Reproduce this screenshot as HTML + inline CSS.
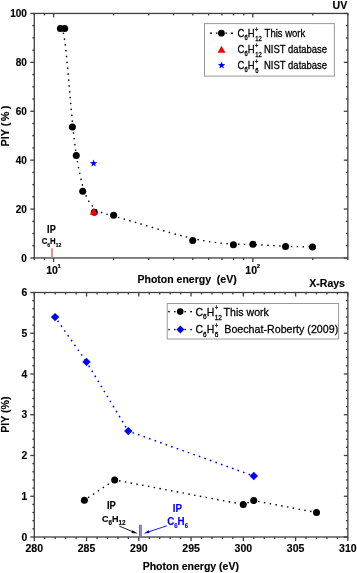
<!DOCTYPE html>
<html><head><meta charset="utf-8"><style>
html,body{margin:0;padding:0;background:#fff;}
svg{display:block;font-family:"Liberation Sans",sans-serif;-webkit-font-smoothing:antialiased;will-change:transform;}
</style></head><body>
<svg width="357" height="573" viewBox="0 0 357 573">
<rect width="357" height="573" fill="#fff"/>
<line x1="30.30" y1="257.95" x2="34.30" y2="257.95" stroke="#404040" stroke-width="1.3" />
<line x1="343.85" y1="257.95" x2="347.85" y2="257.95" stroke="#404040" stroke-width="1.3" />
<line x1="32.30" y1="245.72" x2="34.30" y2="245.72" stroke="#404040" stroke-width="1.3" />
<line x1="345.85" y1="245.72" x2="347.85" y2="245.72" stroke="#404040" stroke-width="1.3" />
<line x1="32.30" y1="233.50" x2="34.30" y2="233.50" stroke="#404040" stroke-width="1.3" />
<line x1="345.85" y1="233.50" x2="347.85" y2="233.50" stroke="#404040" stroke-width="1.3" />
<line x1="32.30" y1="221.27" x2="34.30" y2="221.27" stroke="#404040" stroke-width="1.3" />
<line x1="345.85" y1="221.27" x2="347.85" y2="221.27" stroke="#404040" stroke-width="1.3" />
<line x1="30.30" y1="209.05" x2="34.30" y2="209.05" stroke="#404040" stroke-width="1.3" />
<line x1="343.85" y1="209.05" x2="347.85" y2="209.05" stroke="#404040" stroke-width="1.3" />
<line x1="32.30" y1="196.82" x2="34.30" y2="196.82" stroke="#404040" stroke-width="1.3" />
<line x1="345.85" y1="196.82" x2="347.85" y2="196.82" stroke="#404040" stroke-width="1.3" />
<line x1="32.30" y1="184.60" x2="34.30" y2="184.60" stroke="#404040" stroke-width="1.3" />
<line x1="345.85" y1="184.60" x2="347.85" y2="184.60" stroke="#404040" stroke-width="1.3" />
<line x1="32.30" y1="172.38" x2="34.30" y2="172.38" stroke="#404040" stroke-width="1.3" />
<line x1="345.85" y1="172.38" x2="347.85" y2="172.38" stroke="#404040" stroke-width="1.3" />
<line x1="30.30" y1="160.15" x2="34.30" y2="160.15" stroke="#404040" stroke-width="1.3" />
<line x1="343.85" y1="160.15" x2="347.85" y2="160.15" stroke="#404040" stroke-width="1.3" />
<line x1="32.30" y1="147.92" x2="34.30" y2="147.92" stroke="#404040" stroke-width="1.3" />
<line x1="345.85" y1="147.92" x2="347.85" y2="147.92" stroke="#404040" stroke-width="1.3" />
<line x1="32.30" y1="135.70" x2="34.30" y2="135.70" stroke="#404040" stroke-width="1.3" />
<line x1="345.85" y1="135.70" x2="347.85" y2="135.70" stroke="#404040" stroke-width="1.3" />
<line x1="32.30" y1="123.47" x2="34.30" y2="123.47" stroke="#404040" stroke-width="1.3" />
<line x1="345.85" y1="123.47" x2="347.85" y2="123.47" stroke="#404040" stroke-width="1.3" />
<line x1="30.30" y1="111.25" x2="34.30" y2="111.25" stroke="#404040" stroke-width="1.3" />
<line x1="343.85" y1="111.25" x2="347.85" y2="111.25" stroke="#404040" stroke-width="1.3" />
<line x1="32.30" y1="99.02" x2="34.30" y2="99.02" stroke="#404040" stroke-width="1.3" />
<line x1="345.85" y1="99.02" x2="347.85" y2="99.02" stroke="#404040" stroke-width="1.3" />
<line x1="32.30" y1="86.80" x2="34.30" y2="86.80" stroke="#404040" stroke-width="1.3" />
<line x1="345.85" y1="86.80" x2="347.85" y2="86.80" stroke="#404040" stroke-width="1.3" />
<line x1="32.30" y1="74.57" x2="34.30" y2="74.57" stroke="#404040" stroke-width="1.3" />
<line x1="345.85" y1="74.57" x2="347.85" y2="74.57" stroke="#404040" stroke-width="1.3" />
<line x1="30.30" y1="62.35" x2="34.30" y2="62.35" stroke="#404040" stroke-width="1.3" />
<line x1="343.85" y1="62.35" x2="347.85" y2="62.35" stroke="#404040" stroke-width="1.3" />
<line x1="32.30" y1="50.12" x2="34.30" y2="50.12" stroke="#404040" stroke-width="1.3" />
<line x1="345.85" y1="50.12" x2="347.85" y2="50.12" stroke="#404040" stroke-width="1.3" />
<line x1="32.30" y1="37.90" x2="34.30" y2="37.90" stroke="#404040" stroke-width="1.3" />
<line x1="345.85" y1="37.90" x2="347.85" y2="37.90" stroke="#404040" stroke-width="1.3" />
<line x1="32.30" y1="25.67" x2="34.30" y2="25.67" stroke="#404040" stroke-width="1.3" />
<line x1="345.85" y1="25.67" x2="347.85" y2="25.67" stroke="#404040" stroke-width="1.3" />
<line x1="30.30" y1="13.45" x2="34.30" y2="13.45" stroke="#404040" stroke-width="1.3" />
<line x1="343.85" y1="13.45" x2="347.85" y2="13.45" stroke="#404040" stroke-width="1.3" />
<line x1="34.30" y1="257.95" x2="34.30" y2="259.95" stroke="#404040" stroke-width="1.3" />
<line x1="34.30" y1="13.45" x2="34.30" y2="15.45" stroke="#404040" stroke-width="1.3" />
<line x1="44.49" y1="257.95" x2="44.49" y2="259.95" stroke="#404040" stroke-width="1.3" />
<line x1="44.49" y1="13.45" x2="44.49" y2="15.45" stroke="#404040" stroke-width="1.3" />
<line x1="53.60" y1="257.95" x2="53.60" y2="261.95" stroke="#404040" stroke-width="1.3" />
<line x1="53.60" y1="13.45" x2="53.60" y2="17.45" stroke="#404040" stroke-width="1.3" />
<line x1="113.57" y1="257.95" x2="113.57" y2="259.95" stroke="#404040" stroke-width="1.3" />
<line x1="113.57" y1="13.45" x2="113.57" y2="15.45" stroke="#404040" stroke-width="1.3" />
<line x1="148.65" y1="257.95" x2="148.65" y2="259.95" stroke="#404040" stroke-width="1.3" />
<line x1="148.65" y1="13.45" x2="148.65" y2="15.45" stroke="#404040" stroke-width="1.3" />
<line x1="173.54" y1="257.95" x2="173.54" y2="259.95" stroke="#404040" stroke-width="1.3" />
<line x1="173.54" y1="13.45" x2="173.54" y2="15.45" stroke="#404040" stroke-width="1.3" />
<line x1="192.84" y1="257.95" x2="192.84" y2="259.95" stroke="#404040" stroke-width="1.3" />
<line x1="192.84" y1="13.45" x2="192.84" y2="15.45" stroke="#404040" stroke-width="1.3" />
<line x1="208.61" y1="257.95" x2="208.61" y2="259.95" stroke="#404040" stroke-width="1.3" />
<line x1="208.61" y1="13.45" x2="208.61" y2="15.45" stroke="#404040" stroke-width="1.3" />
<line x1="221.95" y1="257.95" x2="221.95" y2="259.95" stroke="#404040" stroke-width="1.3" />
<line x1="221.95" y1="13.45" x2="221.95" y2="15.45" stroke="#404040" stroke-width="1.3" />
<line x1="233.50" y1="257.95" x2="233.50" y2="259.95" stroke="#404040" stroke-width="1.3" />
<line x1="233.50" y1="13.45" x2="233.50" y2="15.45" stroke="#404040" stroke-width="1.3" />
<line x1="243.69" y1="257.95" x2="243.69" y2="259.95" stroke="#404040" stroke-width="1.3" />
<line x1="243.69" y1="13.45" x2="243.69" y2="15.45" stroke="#404040" stroke-width="1.3" />
<line x1="252.81" y1="257.95" x2="252.81" y2="261.95" stroke="#404040" stroke-width="1.3" />
<line x1="252.81" y1="13.45" x2="252.81" y2="17.45" stroke="#404040" stroke-width="1.3" />
<line x1="312.77" y1="257.95" x2="312.77" y2="259.95" stroke="#404040" stroke-width="1.3" />
<line x1="312.77" y1="13.45" x2="312.77" y2="15.45" stroke="#404040" stroke-width="1.3" />
<line x1="347.85" y1="257.95" x2="347.85" y2="259.95" stroke="#404040" stroke-width="1.3" />
<line x1="347.85" y1="13.45" x2="347.85" y2="15.45" stroke="#404040" stroke-width="1.3" />
<rect x="34.3" y="13.45" width="313.55" height="244.5" fill="none" stroke="#404040" stroke-width="1.3"/>
<text x="26.90" y="261.85" font-size="10" font-weight="bold" fill="#000" stroke="#000" stroke-width="0.15" text-anchor="end" >0</text>
<text x="26.90" y="212.95" font-size="10" font-weight="bold" fill="#000" stroke="#000" stroke-width="0.15" text-anchor="end" >20</text>
<text x="26.90" y="164.05" font-size="10" font-weight="bold" fill="#000" stroke="#000" stroke-width="0.15" text-anchor="end" >40</text>
<text x="26.90" y="115.15" font-size="10" font-weight="bold" fill="#000" stroke="#000" stroke-width="0.15" text-anchor="end" >60</text>
<text x="26.90" y="66.25" font-size="10" font-weight="bold" fill="#000" stroke="#000" stroke-width="0.15" text-anchor="end" >80</text>
<text x="26.90" y="17.35" font-size="10" font-weight="bold" fill="#000" stroke="#000" stroke-width="0.15" text-anchor="end" >100</text>
<text x="52.00" y="274" font-size="10.5" font-weight="bold" stroke="#000" stroke-width="0.15" text-anchor="middle">10</text>
<text x="59.20" y="268.4" font-size="6" font-weight="bold" stroke="#000" stroke-width="0.15" text-anchor="middle">1</text>
<text x="251.21" y="274" font-size="10.5" font-weight="bold" stroke="#000" stroke-width="0.15" text-anchor="middle">10</text>
<text x="258.41" y="268.4" font-size="6" font-weight="bold" stroke="#000" stroke-width="0.15" text-anchor="middle">2</text>
<text x="137.50" y="283.00" font-size="10.5" font-weight="bold" fill="#000" stroke="#000" stroke-width="0.15" text-anchor="start" >Photon energy&#160;&#160;(eV)</text>
<text transform="translate(9.0,146.4) rotate(-90)" font-size="10.8" font-weight="bold" stroke="#000" stroke-width="0.15">PIY (<tspan dx="1.4">%</tspan><tspan dx="2.4">)</tspan></text>
<g transform="translate(347.3,8.7) scale(1,1.05)"><text x="0" y="0" font-size="10.6" font-weight="bold" stroke="#000" stroke-width="0.15" text-anchor="end">UV</text></g>
<line x1="52.00" y1="248.20" x2="52.00" y2="257.60" stroke="#ff6a6a" stroke-width="1.6" />
<g transform="translate(47.1,232.6) scale(1,1.12)"><text x="0" y="0" font-size="9.2" font-weight="bold" stroke="#000" stroke-width="0.15">IP</text></g>
<g transform="translate(41.7,244) scale(1,1.12)"><text x="0" y="0" font-size="7.8" font-weight="bold" stroke="#000" stroke-width="0.15">C<tspan font-size="5" dy="2.9">6</tspan><tspan dy="-2.9">H</tspan><tspan font-size="5" dy="2.9">12</tspan></text></g>
<path d="M60.40,28.40 C60.40,28.40 60.40,28.40 61.12,28.40 C61.83,28.40 63.27,28.40 65.27,44.83 C67.27,61.27 69.83,94.13 71.76,115.33 C73.68,136.53 74.97,146.07 76.68,156.78 C78.40,167.48 80.55,179.37 83.56,188.82 C86.57,198.27 90.43,205.28 95.58,209.27 C100.73,213.25 107.17,214.20 123.57,218.89 C139.97,223.58 166.33,232.02 186.30,236.93 C206.27,241.85 219.83,243.25 229.87,243.88 C239.90,244.50 246.40,244.35 255.08,244.66 C263.77,244.97 274.63,245.73 284.57,246.18 C294.50,246.63 303.50,246.77 308.00,246.83 C312.50,246.90 312.50,246.90 312.50,246.90" fill="none" stroke="#000" stroke-width="1.4" stroke-dasharray="1.5 4.375" stroke-dashoffset="0.15"/>
<circle cx="60.4" cy="28.4" r="3.5" fill="#000"/>
<circle cx="64.7" cy="28.4" r="3.5" fill="#000"/>
<circle cx="72.4" cy="127.0" r="3.5" fill="#000"/>
<circle cx="76.25" cy="155.6" r="3.5" fill="#000"/>
<circle cx="82.7" cy="191.25" r="3.5" fill="#000"/>
<circle cx="94.3" cy="212.3" r="3.5" fill="#000"/>
<circle cx="113.6" cy="215.15" r="3.5" fill="#000"/>
<circle cx="192.7" cy="240.45" r="3.5" fill="#000"/>
<circle cx="233.4" cy="244.65" r="3.5" fill="#000"/>
<circle cx="252.9" cy="244.2" r="3.5" fill="#000"/>
<circle cx="285.5" cy="246.5" r="3.5" fill="#000"/>
<circle cx="312.5" cy="246.9" r="3.5" fill="#000"/>
<polygon points="93.7,207.9 89.8,214.8 97.7,214.8" fill="#ff0000"/>
<polygon points="93.60,159.50 94.54,162.11 97.31,162.19 95.12,163.89 95.89,166.56 93.60,165.00 91.31,166.56 92.08,163.89 89.89,162.19 92.66,162.11" fill="#0000ff"/>
<rect x="204.5" y="23.6" width="129.9" height="52.5" fill="#fff" stroke="#999" stroke-width="1"/>
<rect x="209.9" y="32.5" width="2.10" height="1.3" fill="#000"/>
<rect x="215.9" y="32.5" width="1.60" height="1.3" fill="#000"/>
<rect x="225.5" y="32.5" width="1.60" height="1.3" fill="#000"/>
<rect x="231" y="32.5" width="2.00" height="1.3" fill="#000"/>
<circle cx="221.4" cy="33.2" r="3.4" fill="#000"/>
<polygon points="221.5,45.8 217.6,52.8 225.5,52.8" fill="#ff0000"/>
<polygon points="221.60,61.50 222.54,64.11 225.31,64.19 223.12,65.89 223.89,68.56 221.60,67.00 219.31,68.56 220.08,65.89 217.89,64.19 220.66,64.11" fill="#0000ff"/>
<g transform="translate(237.6,36.6) scale(1,1.2)" stroke="#000" stroke-width="0.25"><text x="0" y="0" font-size="9.5" fill="#000">C<tspan font-size="5.89" dy="2.85">6</tspan><tspan dy="-2.85">H</tspan><tspan font-size="5.32" dx="0.70" dy="-3.99">+</tspan><tspan font-size="5.89" dx="-3.11" dy="7.29">12</tspan></text><text x="27.00" y="0" font-size="9.5" fill="#000">This work</text></g>
<g transform="translate(237.6,52.8) scale(1,1.2)" stroke="#000" stroke-width="0.25"><text x="0" y="0" font-size="9.5" fill="#000">C<tspan font-size="5.89" dy="2.85">6</tspan><tspan dy="-2.85">H</tspan><tspan font-size="5.32" dx="0.70" dy="-3.99">+</tspan><tspan font-size="5.89" dx="-3.11" dy="7.29">12</tspan></text><text x="26.40" y="0" font-size="9.5" fill="#000">NIST database</text></g>
<g transform="translate(237.6,68.6) scale(1,1.2)" stroke="#000" stroke-width="0.25"><text x="0" y="0" font-size="9.5" fill="#000">C<tspan font-size="5.89" dy="2.85">6</tspan><tspan dy="-2.85">H</tspan><tspan font-size="5.32" dx="0.70" dy="-3.99">+</tspan><tspan font-size="5.89" dx="-3.11" dy="7.29">6</tspan></text><text x="26.40" y="0" font-size="9.5" fill="#000">NIST database</text></g>
<line x1="30.30" y1="537.00" x2="34.30" y2="537.00" stroke="#404040" stroke-width="1.3" />
<line x1="343.85" y1="537.00" x2="347.85" y2="537.00" stroke="#404040" stroke-width="1.3" />
<line x1="32.30" y1="528.85" x2="34.30" y2="528.85" stroke="#404040" stroke-width="1.3" />
<line x1="345.85" y1="528.85" x2="347.85" y2="528.85" stroke="#404040" stroke-width="1.3" />
<line x1="32.30" y1="520.70" x2="34.30" y2="520.70" stroke="#404040" stroke-width="1.3" />
<line x1="345.85" y1="520.70" x2="347.85" y2="520.70" stroke="#404040" stroke-width="1.3" />
<line x1="32.30" y1="512.55" x2="34.30" y2="512.55" stroke="#404040" stroke-width="1.3" />
<line x1="345.85" y1="512.55" x2="347.85" y2="512.55" stroke="#404040" stroke-width="1.3" />
<line x1="32.30" y1="504.40" x2="34.30" y2="504.40" stroke="#404040" stroke-width="1.3" />
<line x1="345.85" y1="504.40" x2="347.85" y2="504.40" stroke="#404040" stroke-width="1.3" />
<line x1="30.30" y1="496.25" x2="34.30" y2="496.25" stroke="#404040" stroke-width="1.3" />
<line x1="343.85" y1="496.25" x2="347.85" y2="496.25" stroke="#404040" stroke-width="1.3" />
<line x1="32.30" y1="488.10" x2="34.30" y2="488.10" stroke="#404040" stroke-width="1.3" />
<line x1="345.85" y1="488.10" x2="347.85" y2="488.10" stroke="#404040" stroke-width="1.3" />
<line x1="32.30" y1="479.95" x2="34.30" y2="479.95" stroke="#404040" stroke-width="1.3" />
<line x1="345.85" y1="479.95" x2="347.85" y2="479.95" stroke="#404040" stroke-width="1.3" />
<line x1="32.30" y1="471.80" x2="34.30" y2="471.80" stroke="#404040" stroke-width="1.3" />
<line x1="345.85" y1="471.80" x2="347.85" y2="471.80" stroke="#404040" stroke-width="1.3" />
<line x1="32.30" y1="463.65" x2="34.30" y2="463.65" stroke="#404040" stroke-width="1.3" />
<line x1="345.85" y1="463.65" x2="347.85" y2="463.65" stroke="#404040" stroke-width="1.3" />
<line x1="30.30" y1="455.50" x2="34.30" y2="455.50" stroke="#404040" stroke-width="1.3" />
<line x1="343.85" y1="455.50" x2="347.85" y2="455.50" stroke="#404040" stroke-width="1.3" />
<line x1="32.30" y1="447.35" x2="34.30" y2="447.35" stroke="#404040" stroke-width="1.3" />
<line x1="345.85" y1="447.35" x2="347.85" y2="447.35" stroke="#404040" stroke-width="1.3" />
<line x1="32.30" y1="439.20" x2="34.30" y2="439.20" stroke="#404040" stroke-width="1.3" />
<line x1="345.85" y1="439.20" x2="347.85" y2="439.20" stroke="#404040" stroke-width="1.3" />
<line x1="32.30" y1="431.05" x2="34.30" y2="431.05" stroke="#404040" stroke-width="1.3" />
<line x1="345.85" y1="431.05" x2="347.85" y2="431.05" stroke="#404040" stroke-width="1.3" />
<line x1="32.30" y1="422.90" x2="34.30" y2="422.90" stroke="#404040" stroke-width="1.3" />
<line x1="345.85" y1="422.90" x2="347.85" y2="422.90" stroke="#404040" stroke-width="1.3" />
<line x1="30.30" y1="414.75" x2="34.30" y2="414.75" stroke="#404040" stroke-width="1.3" />
<line x1="343.85" y1="414.75" x2="347.85" y2="414.75" stroke="#404040" stroke-width="1.3" />
<line x1="32.30" y1="406.60" x2="34.30" y2="406.60" stroke="#404040" stroke-width="1.3" />
<line x1="345.85" y1="406.60" x2="347.85" y2="406.60" stroke="#404040" stroke-width="1.3" />
<line x1="32.30" y1="398.45" x2="34.30" y2="398.45" stroke="#404040" stroke-width="1.3" />
<line x1="345.85" y1="398.45" x2="347.85" y2="398.45" stroke="#404040" stroke-width="1.3" />
<line x1="32.30" y1="390.30" x2="34.30" y2="390.30" stroke="#404040" stroke-width="1.3" />
<line x1="345.85" y1="390.30" x2="347.85" y2="390.30" stroke="#404040" stroke-width="1.3" />
<line x1="32.30" y1="382.15" x2="34.30" y2="382.15" stroke="#404040" stroke-width="1.3" />
<line x1="345.85" y1="382.15" x2="347.85" y2="382.15" stroke="#404040" stroke-width="1.3" />
<line x1="30.30" y1="374.00" x2="34.30" y2="374.00" stroke="#404040" stroke-width="1.3" />
<line x1="343.85" y1="374.00" x2="347.85" y2="374.00" stroke="#404040" stroke-width="1.3" />
<line x1="32.30" y1="365.85" x2="34.30" y2="365.85" stroke="#404040" stroke-width="1.3" />
<line x1="345.85" y1="365.85" x2="347.85" y2="365.85" stroke="#404040" stroke-width="1.3" />
<line x1="32.30" y1="357.70" x2="34.30" y2="357.70" stroke="#404040" stroke-width="1.3" />
<line x1="345.85" y1="357.70" x2="347.85" y2="357.70" stroke="#404040" stroke-width="1.3" />
<line x1="32.30" y1="349.55" x2="34.30" y2="349.55" stroke="#404040" stroke-width="1.3" />
<line x1="345.85" y1="349.55" x2="347.85" y2="349.55" stroke="#404040" stroke-width="1.3" />
<line x1="32.30" y1="341.40" x2="34.30" y2="341.40" stroke="#404040" stroke-width="1.3" />
<line x1="345.85" y1="341.40" x2="347.85" y2="341.40" stroke="#404040" stroke-width="1.3" />
<line x1="30.30" y1="333.25" x2="34.30" y2="333.25" stroke="#404040" stroke-width="1.3" />
<line x1="343.85" y1="333.25" x2="347.85" y2="333.25" stroke="#404040" stroke-width="1.3" />
<line x1="32.30" y1="325.10" x2="34.30" y2="325.10" stroke="#404040" stroke-width="1.3" />
<line x1="345.85" y1="325.10" x2="347.85" y2="325.10" stroke="#404040" stroke-width="1.3" />
<line x1="32.30" y1="316.95" x2="34.30" y2="316.95" stroke="#404040" stroke-width="1.3" />
<line x1="345.85" y1="316.95" x2="347.85" y2="316.95" stroke="#404040" stroke-width="1.3" />
<line x1="32.30" y1="308.80" x2="34.30" y2="308.80" stroke="#404040" stroke-width="1.3" />
<line x1="345.85" y1="308.80" x2="347.85" y2="308.80" stroke="#404040" stroke-width="1.3" />
<line x1="32.30" y1="300.65" x2="34.30" y2="300.65" stroke="#404040" stroke-width="1.3" />
<line x1="345.85" y1="300.65" x2="347.85" y2="300.65" stroke="#404040" stroke-width="1.3" />
<line x1="30.30" y1="292.50" x2="34.30" y2="292.50" stroke="#404040" stroke-width="1.3" />
<line x1="343.85" y1="292.50" x2="347.85" y2="292.50" stroke="#404040" stroke-width="1.3" />
<line x1="34.30" y1="537.00" x2="34.30" y2="541.00" stroke="#404040" stroke-width="1.3" />
<line x1="34.30" y1="292.50" x2="34.30" y2="296.50" stroke="#404040" stroke-width="1.3" />
<line x1="44.75" y1="537.00" x2="44.75" y2="539.00" stroke="#404040" stroke-width="1.3" />
<line x1="44.75" y1="292.50" x2="44.75" y2="294.50" stroke="#404040" stroke-width="1.3" />
<line x1="55.20" y1="537.00" x2="55.20" y2="539.00" stroke="#404040" stroke-width="1.3" />
<line x1="55.20" y1="292.50" x2="55.20" y2="294.50" stroke="#404040" stroke-width="1.3" />
<line x1="65.66" y1="537.00" x2="65.66" y2="539.00" stroke="#404040" stroke-width="1.3" />
<line x1="65.66" y1="292.50" x2="65.66" y2="294.50" stroke="#404040" stroke-width="1.3" />
<line x1="76.11" y1="537.00" x2="76.11" y2="539.00" stroke="#404040" stroke-width="1.3" />
<line x1="76.11" y1="292.50" x2="76.11" y2="294.50" stroke="#404040" stroke-width="1.3" />
<line x1="86.56" y1="537.00" x2="86.56" y2="541.00" stroke="#404040" stroke-width="1.3" />
<line x1="86.56" y1="292.50" x2="86.56" y2="296.50" stroke="#404040" stroke-width="1.3" />
<line x1="97.01" y1="537.00" x2="97.01" y2="539.00" stroke="#404040" stroke-width="1.3" />
<line x1="97.01" y1="292.50" x2="97.01" y2="294.50" stroke="#404040" stroke-width="1.3" />
<line x1="107.46" y1="537.00" x2="107.46" y2="539.00" stroke="#404040" stroke-width="1.3" />
<line x1="107.46" y1="292.50" x2="107.46" y2="294.50" stroke="#404040" stroke-width="1.3" />
<line x1="117.91" y1="537.00" x2="117.91" y2="539.00" stroke="#404040" stroke-width="1.3" />
<line x1="117.91" y1="292.50" x2="117.91" y2="294.50" stroke="#404040" stroke-width="1.3" />
<line x1="128.37" y1="537.00" x2="128.37" y2="539.00" stroke="#404040" stroke-width="1.3" />
<line x1="128.37" y1="292.50" x2="128.37" y2="294.50" stroke="#404040" stroke-width="1.3" />
<line x1="138.82" y1="537.00" x2="138.82" y2="541.00" stroke="#404040" stroke-width="1.3" />
<line x1="138.82" y1="292.50" x2="138.82" y2="296.50" stroke="#404040" stroke-width="1.3" />
<line x1="149.27" y1="537.00" x2="149.27" y2="539.00" stroke="#404040" stroke-width="1.3" />
<line x1="149.27" y1="292.50" x2="149.27" y2="294.50" stroke="#404040" stroke-width="1.3" />
<line x1="159.72" y1="537.00" x2="159.72" y2="539.00" stroke="#404040" stroke-width="1.3" />
<line x1="159.72" y1="292.50" x2="159.72" y2="294.50" stroke="#404040" stroke-width="1.3" />
<line x1="170.17" y1="537.00" x2="170.17" y2="539.00" stroke="#404040" stroke-width="1.3" />
<line x1="170.17" y1="292.50" x2="170.17" y2="294.50" stroke="#404040" stroke-width="1.3" />
<line x1="180.62" y1="537.00" x2="180.62" y2="539.00" stroke="#404040" stroke-width="1.3" />
<line x1="180.62" y1="292.50" x2="180.62" y2="294.50" stroke="#404040" stroke-width="1.3" />
<line x1="191.07" y1="537.00" x2="191.07" y2="541.00" stroke="#404040" stroke-width="1.3" />
<line x1="191.07" y1="292.50" x2="191.07" y2="296.50" stroke="#404040" stroke-width="1.3" />
<line x1="201.53" y1="537.00" x2="201.53" y2="539.00" stroke="#404040" stroke-width="1.3" />
<line x1="201.53" y1="292.50" x2="201.53" y2="294.50" stroke="#404040" stroke-width="1.3" />
<line x1="211.98" y1="537.00" x2="211.98" y2="539.00" stroke="#404040" stroke-width="1.3" />
<line x1="211.98" y1="292.50" x2="211.98" y2="294.50" stroke="#404040" stroke-width="1.3" />
<line x1="222.43" y1="537.00" x2="222.43" y2="539.00" stroke="#404040" stroke-width="1.3" />
<line x1="222.43" y1="292.50" x2="222.43" y2="294.50" stroke="#404040" stroke-width="1.3" />
<line x1="232.88" y1="537.00" x2="232.88" y2="539.00" stroke="#404040" stroke-width="1.3" />
<line x1="232.88" y1="292.50" x2="232.88" y2="294.50" stroke="#404040" stroke-width="1.3" />
<line x1="243.33" y1="537.00" x2="243.33" y2="541.00" stroke="#404040" stroke-width="1.3" />
<line x1="243.33" y1="292.50" x2="243.33" y2="296.50" stroke="#404040" stroke-width="1.3" />
<line x1="253.79" y1="537.00" x2="253.79" y2="539.00" stroke="#404040" stroke-width="1.3" />
<line x1="253.79" y1="292.50" x2="253.79" y2="294.50" stroke="#404040" stroke-width="1.3" />
<line x1="264.24" y1="537.00" x2="264.24" y2="539.00" stroke="#404040" stroke-width="1.3" />
<line x1="264.24" y1="292.50" x2="264.24" y2="294.50" stroke="#404040" stroke-width="1.3" />
<line x1="274.69" y1="537.00" x2="274.69" y2="539.00" stroke="#404040" stroke-width="1.3" />
<line x1="274.69" y1="292.50" x2="274.69" y2="294.50" stroke="#404040" stroke-width="1.3" />
<line x1="285.14" y1="537.00" x2="285.14" y2="539.00" stroke="#404040" stroke-width="1.3" />
<line x1="285.14" y1="292.50" x2="285.14" y2="294.50" stroke="#404040" stroke-width="1.3" />
<line x1="295.59" y1="537.00" x2="295.59" y2="541.00" stroke="#404040" stroke-width="1.3" />
<line x1="295.59" y1="292.50" x2="295.59" y2="296.50" stroke="#404040" stroke-width="1.3" />
<line x1="306.04" y1="537.00" x2="306.04" y2="539.00" stroke="#404040" stroke-width="1.3" />
<line x1="306.04" y1="292.50" x2="306.04" y2="294.50" stroke="#404040" stroke-width="1.3" />
<line x1="316.50" y1="537.00" x2="316.50" y2="539.00" stroke="#404040" stroke-width="1.3" />
<line x1="316.50" y1="292.50" x2="316.50" y2="294.50" stroke="#404040" stroke-width="1.3" />
<line x1="326.95" y1="537.00" x2="326.95" y2="539.00" stroke="#404040" stroke-width="1.3" />
<line x1="326.95" y1="292.50" x2="326.95" y2="294.50" stroke="#404040" stroke-width="1.3" />
<line x1="337.40" y1="537.00" x2="337.40" y2="539.00" stroke="#404040" stroke-width="1.3" />
<line x1="337.40" y1="292.50" x2="337.40" y2="294.50" stroke="#404040" stroke-width="1.3" />
<line x1="347.85" y1="537.00" x2="347.85" y2="541.00" stroke="#404040" stroke-width="1.3" />
<line x1="347.85" y1="292.50" x2="347.85" y2="296.50" stroke="#404040" stroke-width="1.3" />
<rect x="34.3" y="292.5" width="313.55" height="244.5" fill="none" stroke="#404040" stroke-width="1.3"/>
<text x="27.20" y="540.60" font-size="10.3" font-weight="bold" fill="#000" stroke="#000" stroke-width="0.15" text-anchor="end" >0</text>
<text x="27.20" y="499.85" font-size="10.3" font-weight="bold" fill="#000" stroke="#000" stroke-width="0.15" text-anchor="end" >1</text>
<text x="27.20" y="459.10" font-size="10.3" font-weight="bold" fill="#000" stroke="#000" stroke-width="0.15" text-anchor="end" >2</text>
<text x="27.20" y="418.35" font-size="10.3" font-weight="bold" fill="#000" stroke="#000" stroke-width="0.15" text-anchor="end" >3</text>
<text x="27.20" y="377.60" font-size="10.3" font-weight="bold" fill="#000" stroke="#000" stroke-width="0.15" text-anchor="end" >4</text>
<text x="27.20" y="336.85" font-size="10.3" font-weight="bold" fill="#000" stroke="#000" stroke-width="0.15" text-anchor="end" >5</text>
<text x="27.20" y="296.10" font-size="10.3" font-weight="bold" fill="#000" stroke="#000" stroke-width="0.15" text-anchor="end" >6</text>
<text x="34.30" y="552.00" font-size="10.5" font-weight="bold" fill="#000" stroke="#000" stroke-width="0.15" text-anchor="middle" >280</text>
<text x="86.56" y="552.00" font-size="10.5" font-weight="bold" fill="#000" stroke="#000" stroke-width="0.15" text-anchor="middle" >285</text>
<text x="138.82" y="552.00" font-size="10.5" font-weight="bold" fill="#000" stroke="#000" stroke-width="0.15" text-anchor="middle" >290</text>
<text x="191.07" y="552.00" font-size="10.5" font-weight="bold" fill="#000" stroke="#000" stroke-width="0.15" text-anchor="middle" >295</text>
<text x="243.33" y="552.00" font-size="10.5" font-weight="bold" fill="#000" stroke="#000" stroke-width="0.15" text-anchor="middle" >300</text>
<text x="295.59" y="552.00" font-size="10.5" font-weight="bold" fill="#000" stroke="#000" stroke-width="0.15" text-anchor="middle" >305</text>
<text x="347.85" y="552.00" font-size="10.5" font-weight="bold" fill="#000" stroke="#000" stroke-width="0.15" text-anchor="middle" >310</text>
<text x="142.70" y="570.40" font-size="10.5" font-weight="bold" fill="#000" stroke="#000" stroke-width="0.15" text-anchor="start" >Photon energy (eV)</text>
<text transform="translate(8.9,432.8) rotate(-90)" font-size="10.6" font-weight="bold" stroke="#000" stroke-width="0.15">PIY (%)</text>
<text x="309.30" y="287.20" font-size="10.5" font-weight="bold" fill="#000" stroke="#000" stroke-width="0.15" text-anchor="start" >X-Rays</text>
<line x1="55.1" y1="317.1" x2="86.5" y2="361.9" stroke="#0000ff" stroke-width="1.5" stroke-dasharray="1.6 4.275" stroke-dashoffset="1.475"/>
<line x1="86.5" y1="361.9" x2="128.3" y2="431.1" stroke="#0000ff" stroke-width="1.5" stroke-dasharray="1.6 4.275" stroke-dashoffset="1.475"/>
<line x1="128.3" y1="431.1" x2="253.8" y2="476.0" stroke="#0000ff" stroke-width="1.5" stroke-dasharray="1.6 4.275" stroke-dashoffset="1.475"/>
<line x1="84.4" y1="500.25" x2="114.65" y2="479.9" stroke="#000" stroke-width="1.4" stroke-dasharray="1.5 4.375" stroke-dashoffset="1.425"/>
<line x1="114.65" y1="479.9" x2="243.25" y2="504.5" stroke="#000" stroke-width="1.4" stroke-dasharray="1.5 4.375" stroke-dashoffset="1.425"/>
<line x1="243.25" y1="504.5" x2="253.7" y2="500.55" stroke="#000" stroke-width="1.4" stroke-dasharray="1.5 4.375" stroke-dashoffset="1.425"/>
<line x1="253.7" y1="500.55" x2="316.5" y2="512.5" stroke="#000" stroke-width="1.4" stroke-dasharray="1.5 4.375" stroke-dashoffset="1.425"/>
<circle cx="84.4" cy="500.25" r="3.5" fill="#000"/>
<circle cx="114.65" cy="479.9" r="3.5" fill="#000"/>
<circle cx="243.25" cy="504.5" r="3.5" fill="#000"/>
<circle cx="253.7" cy="500.55" r="3.5" fill="#000"/>
<circle cx="316.5" cy="512.5" r="3.5" fill="#000"/>
<polygon points="55.1,312.90000000000003 59.300000000000004,317.1 55.1,321.3 50.9,317.1" fill="#0000ff"/>
<polygon points="86.5,357.7 90.7,361.9 86.5,366.09999999999997 82.3,361.9" fill="#0000ff"/>
<polygon points="128.3,426.90000000000003 132.5,431.1 128.3,435.3 124.10000000000001,431.1" fill="#0000ff"/>
<polygon points="253.8,471.8 258.0,476.0 253.8,480.2 249.60000000000002,476.0" fill="#0000ff"/>
<line x1="139.80" y1="524.70" x2="139.80" y2="536.30" stroke="#555566" stroke-width="1.3" />
<line x1="141.20" y1="524.70" x2="141.20" y2="536.30" stroke="#4a4aff" stroke-width="1.0" />
<g transform="translate(107,509.3) scale(1,1.12)"><text x="0" y="0" font-size="9.4" font-weight="bold" stroke="#000" stroke-width="0.15">IP</text></g>
<g transform="translate(102,521.6) scale(1,1.08)"><text x="0" y="0" font-size="9" font-weight="bold" stroke="#000" stroke-width="0.15">C<tspan font-size="6.3" dy="3.2">6</tspan><tspan dy="-3.2">H</tspan><tspan font-size="6.3" dy="3.5">12</tspan></text></g>
<g transform="translate(172.8,512.1) scale(1,1.15)"><text x="0" y="0" font-size="9.8" font-weight="bold" stroke="#0000ff" stroke-width="0.15" fill="#0000ff">IP</text></g>
<g transform="translate(167.2,524.9) scale(1,1.08)"><text x="0" y="0" font-size="9.8" font-weight="bold" stroke="#0000ff" stroke-width="0.15" fill="#0000ff">C<tspan font-size="6.0" dy="2.9">6</tspan><tspan dy="-2.9">H</tspan><tspan font-size="6.0" dy="2.9">6</tspan></text></g>
<line x1="119.30" y1="526.10" x2="134.50" y2="532.40" stroke="#000" stroke-width="0.9" />
<polygon points="137.6,533.6 132.4,530.2 131.4,533.0" fill="#000"/>
<line x1="166.90" y1="525.80" x2="147.00" y2="532.40" stroke="#0000ff" stroke-width="0.9" />
<polygon points="143.8,533.4 148.8,530.3 149.6,533.1" fill="#0000ff"/>
<rect x="167.2" y="303.5" width="171.4" height="35.5" fill="#fff" stroke="#999" stroke-width="1"/>
<rect x="168.2" y="311.0" width="1.60" height="1.3" fill="#000"/>
<rect x="168.2" y="328.9" width="1.60" height="1.3" fill="#0000ff"/>
<rect x="174" y="311.0" width="1.60" height="1.3" fill="#000"/>
<rect x="174" y="328.9" width="1.60" height="1.3" fill="#0000ff"/>
<rect x="184.4" y="311.0" width="1.60" height="1.3" fill="#000"/>
<rect x="184.4" y="328.9" width="1.60" height="1.3" fill="#0000ff"/>
<rect x="190.2" y="311.0" width="1.80" height="1.3" fill="#000"/>
<rect x="190.2" y="328.9" width="1.80" height="1.3" fill="#0000ff"/>
<circle cx="180.2" cy="311.6" r="3.3" fill="#000"/>
<polygon points="180.4,325.5 184.4,329.5 180.4,333.5 176.4,329.5" fill="#0000ff"/>
<g transform="translate(195.5,315.5) scale(1,1.1)" stroke="#000" stroke-width="0.25"><text x="0" y="0" font-size="10.5" fill="#000">C<tspan font-size="6.51" dy="3.15">6</tspan><tspan dy="-3.15">H</tspan><tspan font-size="5.88" dx="0.40" dy="-4.93">+</tspan><tspan font-size="6.51" dx="-3.43" dy="8.59">12</tspan></text><text x="28.10" y="0" font-size="10.6" fill="#000">This work</text></g>
<g transform="translate(195.5,333.3) scale(1,1.1)" stroke="#000" stroke-width="0.25"><text x="0" y="0" font-size="10.5" fill="#000">C<tspan font-size="6.51" dy="3.15">6</tspan><tspan dy="-3.15">H</tspan><tspan font-size="5.88" dx="0.40" dy="-4.93">+</tspan><tspan font-size="6.51" dx="-3.43" dy="8.59">6</tspan></text><text x="28.80" y="0" font-size="10.68" fill="#000">Boechat-Roberty (2009)</text></g>
</svg>
</body></html>
